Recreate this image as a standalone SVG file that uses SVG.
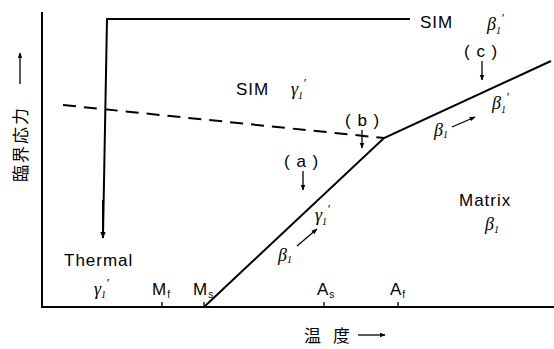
<svg xmlns="http://www.w3.org/2000/svg" width="554" height="349" viewBox="0 0 554 349">
<defs>
<style>
.ln{fill:none;stroke:#000;stroke-width:2}
.th{fill:none;stroke:#000;stroke-width:1.3}
.t{font-family:"Liberation Sans","DejaVu Sans",sans-serif;font-size:17px;letter-spacing:1px;fill:#000}
.g{font-family:"Liberation Serif","DejaVu Serif",serif;font-style:italic;font-size:18px;fill:#000}
.s{font-size:10px}
.p{font-size:13px}
.cjk{font-family:"Noto Sans CJK JP","Noto Sans CJK SC",sans-serif;font-size:17px;fill:#000}
</style>
<marker id="ah" viewBox="0 0 10 10" refX="9" refY="5" markerWidth="7" markerHeight="7" orient="auto" markerUnits="userSpaceOnUse">
<path d="M0,1 L10,5 L0,9 Z" fill="#000"/>
</marker>
<marker id="ahs" viewBox="0 0 10 10" refX="9" refY="5" markerWidth="6" markerHeight="6" orient="auto" markerUnits="userSpaceOnUse">
<path d="M0,1 L10,5 L0,9 Z" fill="#000"/>
</marker>
</defs>
<rect width="554" height="349" fill="#fff"/>
<g id="axes">
<line class="ln" x1="42" y1="12" x2="42" y2="307"/>
<line class="ln" x1="41" y1="307" x2="554" y2="307"/>
<line class="th" x1="162" y1="302" x2="162" y2="307"/>
<line class="th" x1="204" y1="302" x2="204" y2="307"/>
<line class="th" x1="324" y1="302" x2="324" y2="307"/>
<line class="th" x1="398" y1="302" x2="398" y2="307"/>
</g>
<g id="connectors">
<polyline class="ln" points="410,19 107,19 103,236"/>
<line class="ln" x1="103" y1="200" x2="103" y2="238" marker-end="url(#ah)"/>
<line class="ln" x1="63" y1="105" x2="384" y2="138" stroke-dasharray="13,8"/>
<polyline class="ln" points="204,307 384,138 551,61"/>
<line class="th" x1="482" y1="61" x2="482" y2="80" marker-end="url(#ahs)"/>
<line class="th" x1="362" y1="130" x2="362" y2="148" marker-end="url(#ahs)"/>
<line class="th" x1="303" y1="171" x2="303" y2="190" marker-end="url(#ahs)"/>
<line class="th" x1="452" y1="127" x2="475" y2="117" marker-end="url(#ahs)"/>
<line class="th" x1="297" y1="246" x2="317" y2="229" marker-end="url(#ahs)"/>
<line class="th" x1="20" y1="84" x2="20" y2="53" marker-end="url(#ahs)"/>
<line class="th" x1="358" y1="335" x2="385" y2="335" marker-end="url(#ahs)"/>
</g>
<g id="labels">
<text class="t" x="420" y="28">SIM</text>
<text class="g" x="487" y="30">β<tspan class="s" dy="4">1</tspan><tspan class="p" dy="-12">′</tspan></text>
<text class="t" x="464" y="57">( c )</text>
<text class="g" x="492" y="109">β<tspan class="s" dy="4">1</tspan><tspan class="p" dy="-12">′</tspan></text>
<text class="g" x="434" y="136">β<tspan class="s" dy="2">1</tspan></text>
<text class="t" x="345" y="126">( b )</text>
<text class="t" x="236" y="95">SIM</text>
<text class="g" x="291" y="95">γ<tspan class="s" dy="4">1</tspan><tspan class="p" dy="-12">′</tspan></text>
<text class="t" x="284" y="167">( a )</text>
<text class="g" x="315" y="221">γ<tspan class="s" dy="4">1</tspan><tspan class="p" dy="-12">′</tspan></text>
<text class="g" x="278" y="261">β<tspan class="s" dy="2">1</tspan></text>
<text class="t" x="459" y="206">Matrix</text>
<text class="g" x="485" y="230">β<tspan class="s" dy="3">1</tspan></text>
<text class="t" x="64" y="266">Thermal</text>
<text class="g" x="94" y="295">γ<tspan class="s" dy="3">1</tspan><tspan class="p" dy="-11">′</tspan></text>
<text class="t" x="152" y="295">M<tspan class="s" dy="3">f</tspan></text>
<text class="t" x="193" y="295">M<tspan class="s" dy="3">s</tspan></text>
<text class="t" x="317" y="295">A<tspan class="s" dy="3">s</tspan></text>
<text class="t" x="390" y="295">A<tspan class="s" dy="3">f</tspan></text>
<text class="cjk" x="304" y="342">温</text>
<text class="cjk" x="333" y="342">度</text>
<text class="cjk" transform="translate(27,182) rotate(-90)" x="0" y="0" style="letter-spacing:2px">臨界応力</text>
</g>
</svg>
